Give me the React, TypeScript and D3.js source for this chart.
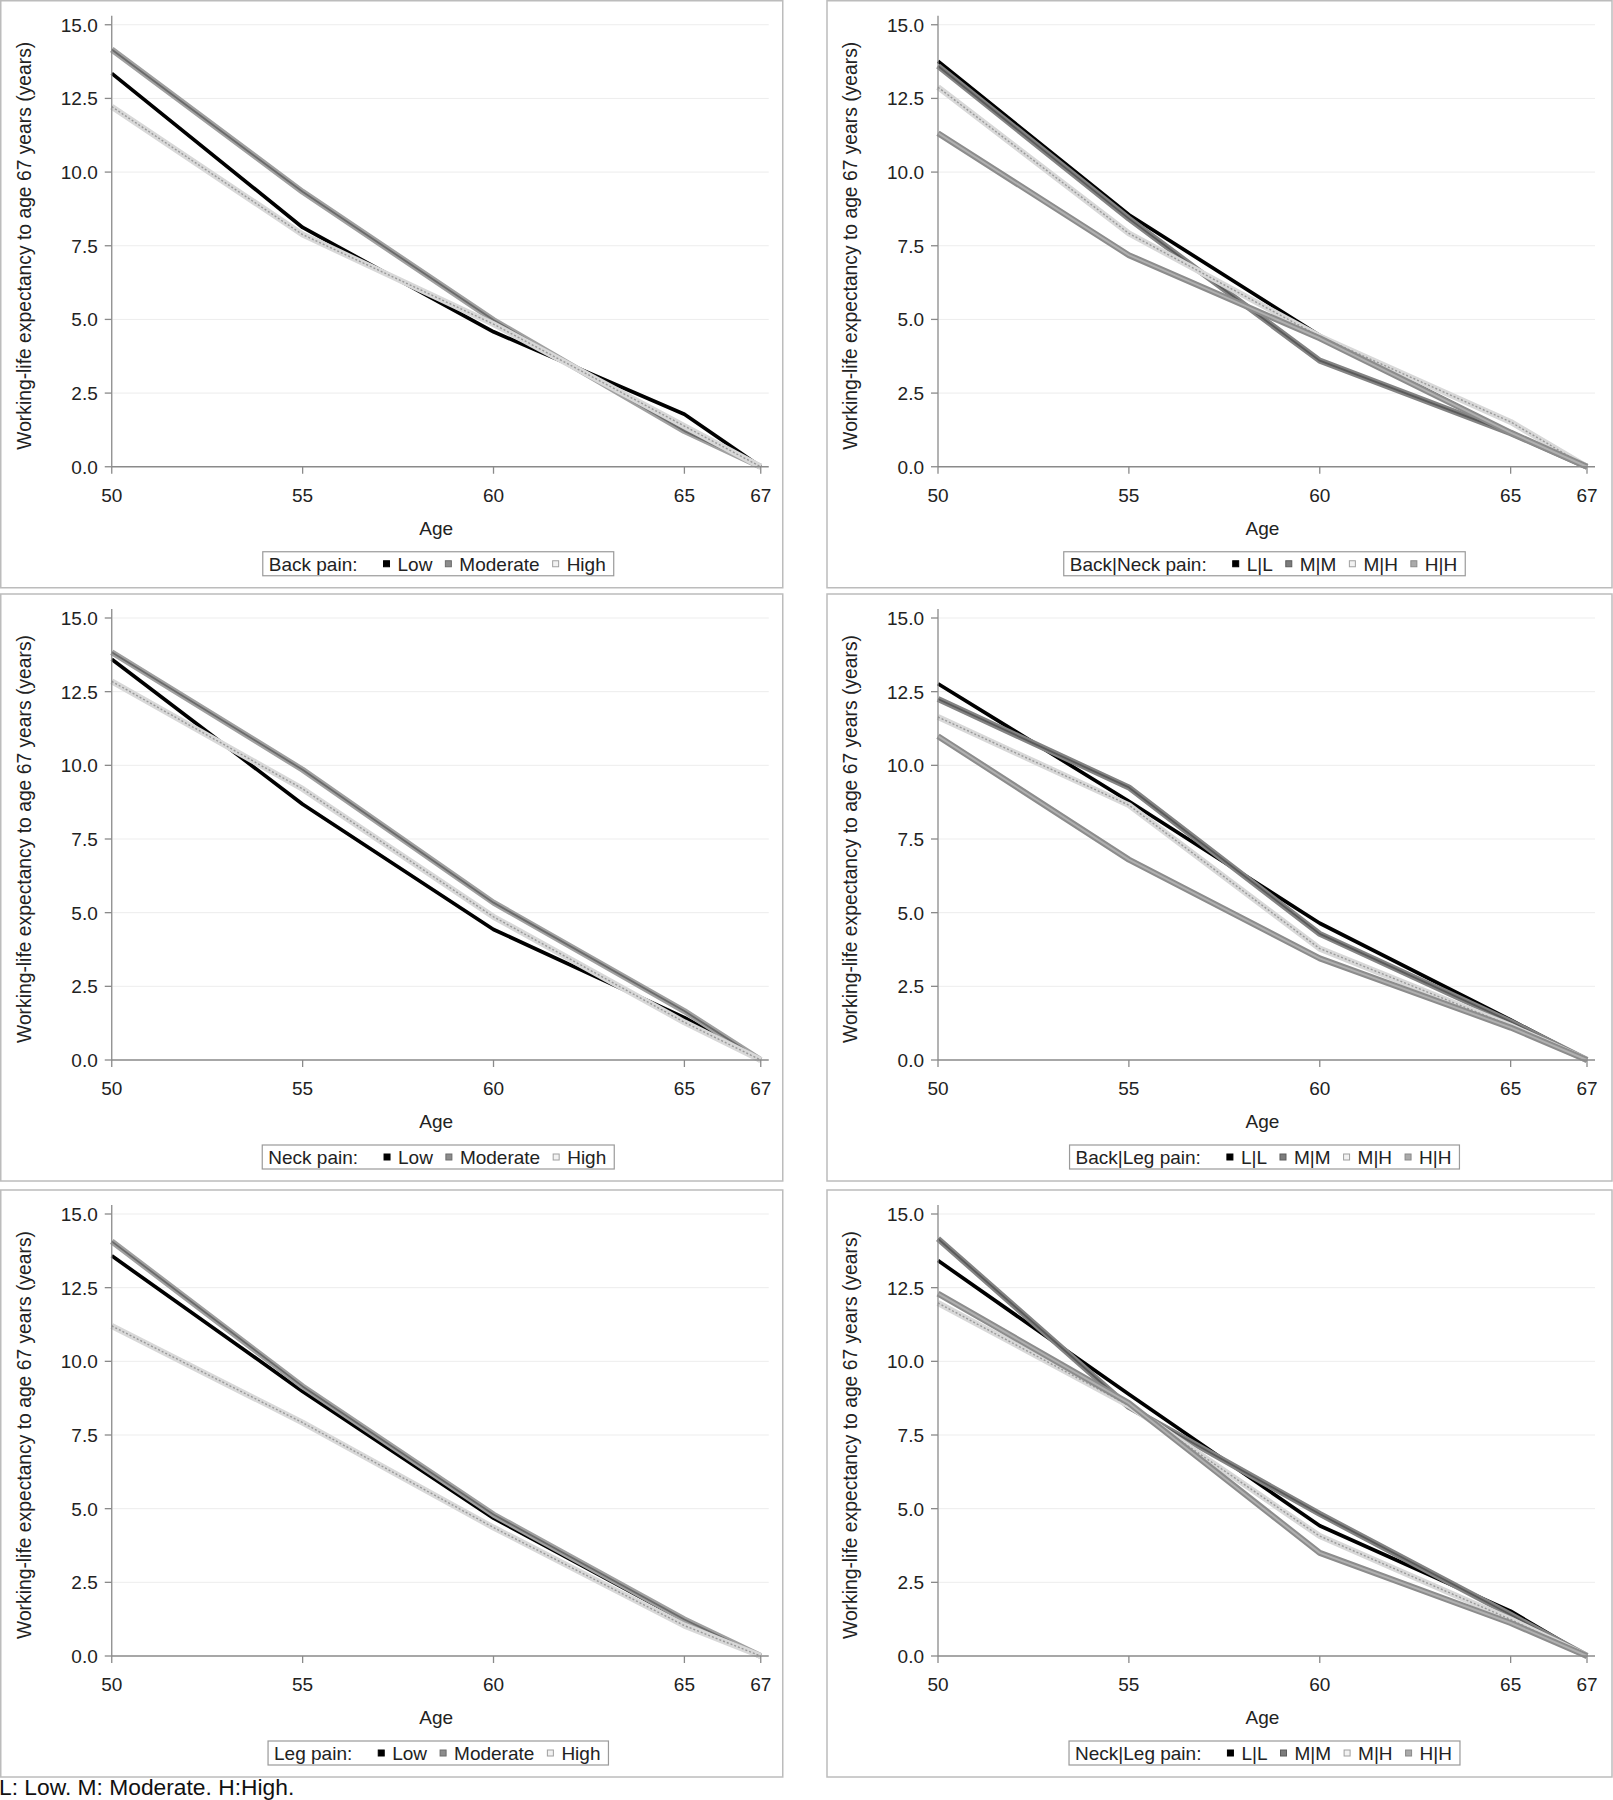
import { useEffect, useRef } from "react";
import * as d3 from "d3";

// ages at which working-life expectancy was estimated
const ages = [50, 55, 60, 65, 67];
const xTicks = [50, 55, 60, 65, 67];
const yTicks = [0, 2.5, 5, 7.5, 10, 12.5, 15];

const levels3 = ["Low", "Moderate", "High"];
const levels4 = ["L|L", "M|M", "M|H", "H|H"];

// one row per level, one value per age
const backPain = [
  [13.35, 8.12, 4.58, 1.78, 0],
  [14.16, 9.33, 4.98, 1.21, 0],
  [12.22, 7.88, 4.84, 1.38, 0],
];
const backNeckPain = [
  [13.76, 8.55, 4.45, 1.15, 0],
  [13.6, 8.42, 3.6, 1.14, 0],
  [12.88, 7.92, 4.42, 1.52, 0],
  [11.32, 7.18, 4.36, 1.16, 0],
];
const neckPain = [
  [13.6, 8.68, 4.43, 1.44, 0],
  [13.84, 9.85, 5.34, 1.66, 0],
  [12.85, 9.2, 4.86, 1.28, 0],
];
const backLegPain = [
  [12.77, 8.78, 4.64, 1.36, 0],
  [12.25, 9.25, 4.28, 1.3, 0],
  [11.64, 8.65, 3.78, 1.16, 0],
  [10.99, 6.8, 3.45, 1.1, 0],
];
const legPain = [
  [13.58, 8.98, 4.68, 1.2, 0],
  [14.07, 9.15, 4.8, 1.24, 0],
  [11.2, 7.92, 4.36, 1.03, 0],
];
const neckLegPain = [
  [13.42, 8.88, 4.42, 1.52, 0],
  [14.16, 8.45, 4.82, 1.4, 0],
  [11.98, 8.5, 4.07, 1.24, 0],
  [12.3, 8.58, 3.5, 1.12, 0],
];

const panels = [
  { title: "Back pain:", levels: levels3, series: backPain },
  { title: "Back|Neck pain:", levels: levels4, series: backNeckPain },
  { title: "Neck pain:", levels: levels3, series: neckPain },
  { title: "Back|Leg pain:", levels: levels4, series: backLegPain },
  { title: "Leg pain:", levels: levels3, series: legPain },
  { title: "Neck|Leg pain:", levels: levels4, series: neckLegPain },
];

const footnote = "L: Low. M: Moderate. H:High.";

const FONT = "'Liberation Sans', Arial, sans-serif";

// band = wide stroke, line = centre stroke
const styles = {
  Low: { band: null, line: "#000", lw: 3.7, dash: null, fill: "#000", edge: "#000" },
  Moderate: { band: "#a0a0a0", line: "#6a6a6a", lw: 1.8, dash: null, fill: "#8c8c8c", edge: "#6c6c6c" },
  High: { band: "#d8d8d8", line: "#999", lw: 1.4, dash: "2,2", fill: "#f2f2f2", edge: "#a0a0a0" },
  "L|L": { band: null, line: "#000", lw: 3.7, dash: null, fill: "#000", edge: "#000" },
  "M|M": { band: "#838383", line: "#5a5a5a", lw: 1.8, dash: null, fill: "#7c7c7c", edge: "#5c5c5c" },
  "M|H": { band: "#d8d8d8", line: "#999", lw: 1.4, dash: "2,2", fill: "#f2f2f2", edge: "#a0a0a0" },
  "H|H": { band: "#8c8c8c", line: "#b0b0b0", lw: 2, dash: null, fill: "#aaaaaa", edge: "#8a8a8a" },
};

function draw(container: HTMLDivElement) {
  const width = 1613;
  const height = 1800;
  const colX = [0.75, 827];
  const rowY = [0.75, 594, 1190];
  const panelW = [782, 785];
  const panelH = 587;

  // attach first so text can be measured
  const svg = d3
    .select(container)
    .append("svg")
    .attr("width", width)
    .attr("height", height)
    .attr("font-family", FONT)
    .style("display", "block");

  svg.append("rect").attr("width", width).attr("height", height).attr("fill", "#fff");

  const x = d3.scaleLinear().domain([50, 67]).range([111, 760]);
  const y = d3.scaleLinear().domain([0, 15]).range([466, 24]);
  const midX = (x.range()[0] + x.range()[1]) / 2;

  panels.forEach((p, i) => {
    const col = i % 2;
    const row = Math.floor(i / 2);
    const g = svg.append("g").attr("transform", `translate(${colX[col]},${rowY[row]})`);

    g.append("rect")
      .attr("width", panelW[col])
      .attr("height", panelH)
      .attr("fill", "#fff")
      .attr("stroke", "#bcbcbc")
      .attr("stroke-width", 1.5);

    // grid
    g.selectAll(".grid")
      .data(yTicks.filter((t) => t > 0))
      .join("line")
      .attr("x1", 112)
      .attr("x2", 768)
      .attr("y1", (d) => y(d))
      .attr("y2", (d) => y(d))
      .attr("stroke", "#ededed")
      .attr("stroke-width", 1);

    // series
    const line = d3
      .line<number>()
      .x((d, k) => x(ages[k]))
      .y((d) => y(d));

    p.series.forEach((vals, k) => {
      const st = styles[p.levels[k]];
      if (st.band) {
        g.append("path")
          .attr("d", line(vals))
          .attr("fill", "none")
          .attr("stroke", st.band)
          .attr("stroke-width", 6)
          .attr("stroke-linejoin", "round");
      }
      g.append("path")
        .attr("d", line(vals))
        .attr("fill", "none")
        .attr("stroke", st.line)
        .attr("stroke-width", st.lw)
        .attr("stroke-dasharray", st.dash)
        .attr("stroke-linejoin", "round");
    });

    // axes
    const axisColor = "#8a8a8a";
    g.append("line")
      .attr("x1", 111)
      .attr("x2", 111)
      .attr("y1", 15)
      .attr("y2", 466)
      .attr("stroke", axisColor)
      .attr("stroke-width", 1.3);
    g.append("line")
      .attr("x1", 111)
      .attr("x2", 768)
      .attr("y1", 466)
      .attr("y2", 466)
      .attr("stroke", axisColor)
      .attr("stroke-width", 1.3);

    yTicks.forEach((t) => {
      g.append("line")
        .attr("x1", 104)
        .attr("x2", 111)
        .attr("y1", y(t))
        .attr("y2", y(t))
        .attr("stroke", axisColor)
        .attr("stroke-width", 1.3);
      g.append("text")
        .attr("x", 97)
        .attr("y", y(t) + 7)
        .attr("text-anchor", "end")
        .attr("font-size", 19)
        .attr("fill", "#222")
        .text(d3.format(".1f")(t));
    });

    xTicks.forEach((t) => {
      g.append("line")
        .attr("x1", x(t))
        .attr("x2", x(t))
        .attr("y1", 466)
        .attr("y2", 473)
        .attr("stroke", axisColor)
        .attr("stroke-width", 1.3);
      g.append("text")
        .attr("x", x(t))
        .attr("y", 501)
        .attr("text-anchor", "middle")
        .attr("font-size", 19)
        .attr("fill", "#222")
        .text(t);
    });

    g.append("text")
      .attr("x", midX)
      .attr("y", 534)
      .attr("text-anchor", "middle")
      .attr("font-size", 19)
      .attr("fill", "#222")
      .text("Age");

    g.append("text")
      .attr("transform", `translate(30,${(y.range()[0] + y.range()[1]) / 2}) rotate(-90)`)
      .attr("text-anchor", "middle")
      .attr("font-size", 19.3)
      .attr("fill", "#222")
      .text("Working-life expectancy to age 67 years (years)");

    // legend
    const leg = g.append("g");
    const box = leg.append("rect");
    const items = leg.append("g");
    const title = items
      .append("text")
      .attr("x", 0)
      .attr("y", 0)
      .attr("font-size", 19)
      .attr("fill", "#222")
      .text(p.title);
    let cx = (title.node() as SVGTextElement).getComputedTextLength() + 26;
    p.levels.forEach((lv, k) => {
      const st = styles[lv];
      items
        .append("rect")
        .attr("x", cx)
        .attr("y", -10)
        .attr("width", 6)
        .attr("height", 6)
        .attr("fill", st.fill)
        .attr("stroke", st.edge)
        .attr("stroke-width", 1);
      cx += 14;
      const t = items
        .append("text")
        .attr("x", cx)
        .attr("y", 0)
        .attr("font-size", 19)
        .attr("fill", "#222")
        .text(lv);
      cx += (t.node() as SVGTextElement).getComputedTextLength();
      if (k < p.levels.length - 1) cx += 13;
    });
    const boxW = cx + 14;
    const boxX = midX - boxW / 2 + 2;
    box
      .attr("x", boxX)
      .attr("y", 551)
      .attr("width", boxW)
      .attr("height", 24)
      .attr("fill", "#fff")
      .attr("stroke", "#9a9a9a")
      .attr("stroke-width", 1.2);
    items.attr("transform", `translate(${boxX + 6},570)`);
  });

  svg
    .append("text")
    .attr("x", -1)
    .attr("y", 1795)
    .attr("font-size", 22.8)
    .attr("fill", "#111")
    .text(footnote);
}

export default function App() {
  const ref = useRef<HTMLDivElement>(null);

  useEffect(() => {
    if (ref.current) {
      ref.current.innerHTML = "";
      draw(ref.current);
    }
  }, []);

  return <div ref={ref} style={{ position: "absolute", left: 0, top: 0 }}></div>;
}
